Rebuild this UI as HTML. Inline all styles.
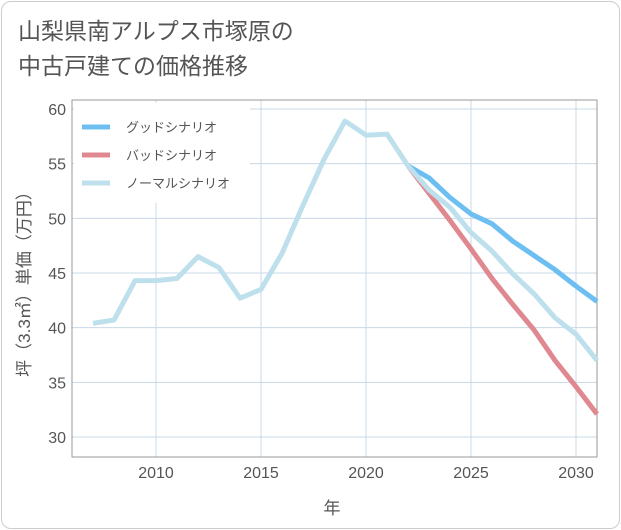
<!DOCTYPE html>
<html><head><meta charset="utf-8"><style>
body{margin:0;background:#fff;}
#c{position:relative;width:621px;height:530px;font-family:"Liberation Sans","Noto Sans CJK JP",sans-serif;}
.frame{position:absolute;left:1px;top:1px;width:617px;height:526px;border:1px solid #ccc;border-radius:10px;}
.title{position:absolute;left:18px;top:14px;font-size:23px;line-height:35px;color:#555;}
</style></head><body>
<div id="c">
<div class="frame"></div>
<div class="title">山梨県南アルプス市塚原の<br>中古戸建ての価格推移</div>
<svg id="s" width="621" height="530" style="position:absolute;left:0;top:0"></svg>
</div>
<script>
const years=[2007,2008,2009,2010,2011,2012,2013,2014,2015,2016,2017,2018,2019,2020,2021,2022,2023,2024,2025,2026,2027,2028,2029,2030,2031];
const normal=[40.4,40.7,44.3,44.3,44.5,46.5,45.5,42.7,43.5,46.8,51.2,55.4,58.9,57.6,57.7,54.8,52.6,51.0,48.7,47.0,44.9,43.1,40.9,39.4,37.0];
const goodYears=[2022,2023,2024,2025,2026,2027,2028,2029,2030,2031];
const good=[54.8,53.7,51.9,50.4,49.5,47.9,46.6,45.3,43.8,42.4];
const bad=[54.8,52.3,49.8,47.2,44.5,42.1,39.8,37.0,34.6,32.1];
const xTicks=[2010,2015,2020,2025,2030];
const yTicks=[30,35,40,45,50,55,60];
const L=72,R=597,T=100,B=457;
const x=v=>156+(v-2010)*21;
const y=v=>109+(60-v)*(328/30);
const s=document.getElementById('s');const NS='http://www.w3.org/2000/svg';
function mk(t,a,p){const e=document.createElementNS(NS,t);for(const k in a)e.setAttribute(k,a[k]);(p||s).appendChild(e);return e;}
xTicks.forEach(v=>{const l=mk('line',{x1:x(v),x2:x(v),y1:T,y2:B,stroke:'#c8d8e8','stroke-width':1});

const t=mk('text',{x:x(v),y:478,'text-anchor':'middle','font-size':16,fill:'#555'});t.textContent=v;
});
yTicks.forEach(v=>{const l=mk('line',{x1:L,x2:R,y1:y(v),y2:y(v),stroke:'#c8d8e8','stroke-width':1});

const t=mk('text',{x:66,y:y(v)+6,'text-anchor':'end','font-size':16,fill:'#555'});t.textContent=v;
});
const ax=mk('rect',{x:L,y:T,width:R-L,height:B-T,fill:'none',stroke:'#999','stroke-width':1});

function line(xs,vs,c,n){const p=mk('polyline',{points:xs.map((v,i)=>x(v)+','+y(vs[i])).join(' '),fill:'none',stroke:c,'stroke-width':5,'stroke-linejoin':'round'});
}
line(goodYears,good,'#6dbff2','good-scenario-line');
line(goodYears,bad,'#e08890','bad-scenario-line');
line(years,normal,'#bde0ec','normal-scenario-line');
const lg=mk('rect',{x:74,y:103,width:176,height:100,fill:'#fff'});

[['グッドシナリオ','#6dbff2',127],['バッドシナリオ','#e08890',155],['ノーマルシナリオ','#bde0ec',183]].forEach(([n,c,yy])=>{
const l=mk('line',{x1:82,x2:110,y1:yy,y2:yy,stroke:c,'stroke-width':5});

const t=mk('text',{x:126,y:yy+5,'font-size':13,fill:'#555'});t.textContent=n;
});
const xt=mk('text',{x:332,y:514,'text-anchor':'middle','font-size':17,fill:'#555'});xt.textContent='年';

const yt=mk('text',{x:0,y:0,'text-anchor':'middle','font-size':17,fill:'#555',transform:'translate(30,280) rotate(-90)'});yt.textContent='坪（3.3㎡）単価（万円）';

</script>
</body></html>
